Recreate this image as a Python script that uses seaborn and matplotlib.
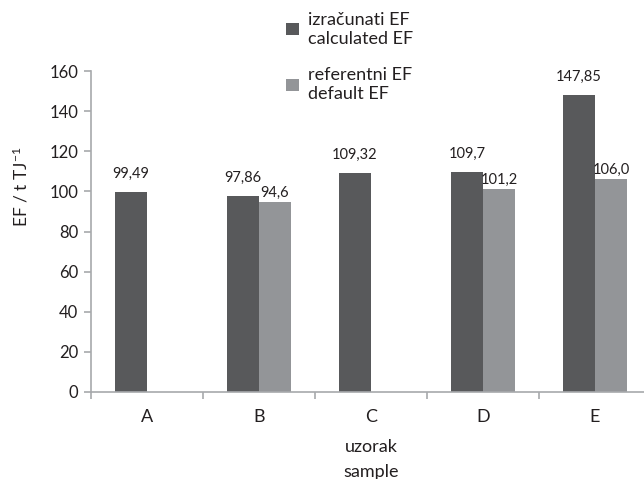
import matplotlib
matplotlib.use("Agg")
import matplotlib.pyplot as plt
import seaborn as sns
import pandas as pd
import numpy as np

# data
samples = ["A", "B", "C", "D", "E"]
calculated_ef = [99.49, 97.86, 109.32, 109.7, 147.85]
default_ef = [np.nan, 94.6, np.nan, 101.2, 106.0]
series_names = ["izračunati EF\ncalculated EF", "referentni EF\ndefault EF"]
y_ticks = [0, 20, 40, 60, 80, 100, 120, 140, 160]

dark_grey = "#58595b"
light_grey = "#939598"
axis_grey = "#a7a9ac"
text_col = "#231f20"

df = pd.DataFrame({
    "sample": samples * 2,
    "value": calculated_ef + default_ef,
    "series": [series_names[0]] * len(samples) + [series_names[1]] * len(samples),
})

sns.set_style("white")
plt.rcParams["font.family"] = ["Lato", "DejaVu Sans"]
plt.rcParams["mathtext.fontset"] = "custom"
plt.rcParams["mathtext.rm"] = "Lato"
plt.rcParams["mathtext.it"] = "Lato:italic"

fig = plt.figure(figsize=(6.44, 4.79), dpi=100)
ax = fig.add_axes([91 / 644, 87 / 479, 560 / 644, 321 / 479])

sns.barplot(data=df, x="sample", y="value", hue="series", order=samples,
            hue_order=series_names, palette=[dark_grey, light_grey],
            width=0.57, gap=0, errorbar=None, linewidth=0, saturation=1, ax=ax)

# value labels with decimal comma
for container, pad in zip(ax.containers, [8, 1.5]):
    labels = [str(round(b.get_height(), 2)).replace(".", ",") for b in container]
    ax.bar_label(container, labels=labels, padding=pad, fontsize=10.5, color=text_col)

ax.set_ylim(0, 160)
ax.set_yticks(y_ticks)
ax.set_xlim(-0.5, len(samples) - 0.5)

for side in ["top", "right"]:
    ax.spines[side].set_visible(False)
for side in ["left", "bottom"]:
    ax.spines[side].set_color(axis_grey)
    ax.spines[side].set_linewidth(1.2)

ax.tick_params(axis="y", direction="out", length=5, width=1.2, color=axis_grey,
               labelsize=12, labelcolor=text_col, pad=4, left=True)
ax.tick_params(axis="x", which="major", length=0, labelsize=13,
               labelcolor=text_col, pad=12)
ax.set_xticks(np.arange(-0.5, len(samples), 1), minor=True)
ax.tick_params(axis="x", which="minor", direction="out", length=5, width=1.2,
               color=axis_grey, bottom=True)

ax.set_ylabel("EF / t TJ$^{-1}$", fontsize=12.5, color=text_col)
ax.yaxis.set_label_coords(-0.108, 0.64)
ax.set_xlabel("uzorak\nsample", fontsize=13, color=text_col, linespacing=1.7)
ax.xaxis.set_label_coords(0.5, -0.145)
ax.xaxis.label.set_va("top")

handles, labels = ax.get_legend_handles_labels()
ax.get_legend().remove()
fig.legend(handles, labels, loc="upper left", bbox_to_anchor=(286 / 644, 0.975),
           frameon=False, fontsize=13, handlelength=0.7, handleheight=0.65,
           handletextpad=0.5, labelspacing=1.15, borderpad=0, borderaxespad=0,
           labelcolor=text_col)

fig.savefig("out.png", dpi=100)
